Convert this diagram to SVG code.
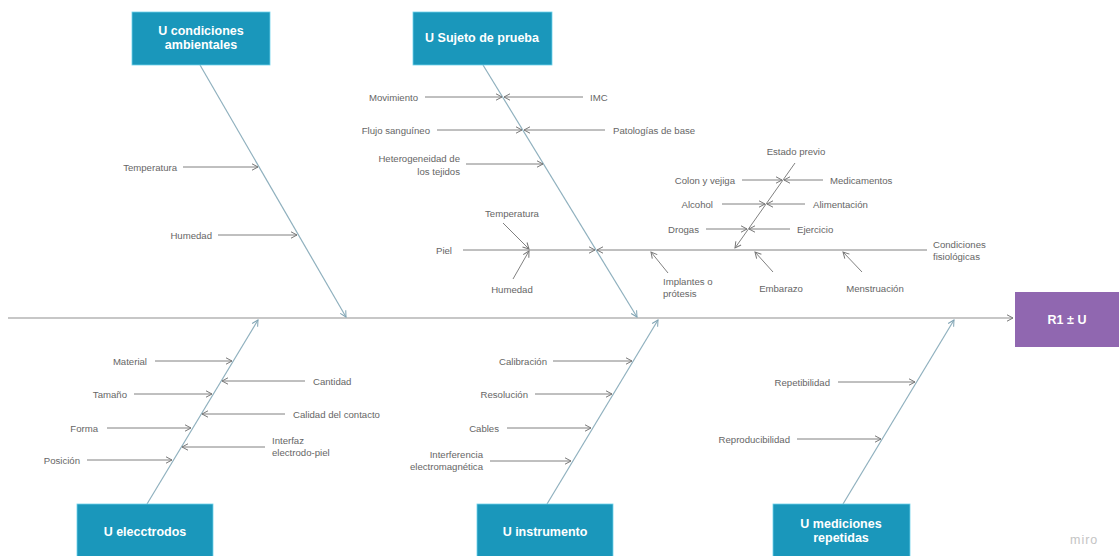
<svg xmlns="http://www.w3.org/2000/svg" width="1119" height="556" viewBox="0 0 1119 556">
<defs>
<marker id="ah" viewBox="0 0 8 8" refX="7" refY="4" markerWidth="8" markerHeight="8" markerUnits="userSpaceOnUse" orient="auto">
<path d="M1,0.8 L7,4 L1,7.2" fill="none" stroke="#777" stroke-width="1"/>
</marker>
<marker id="ahs" viewBox="0 0 8 8" refX="7" refY="4" markerWidth="8" markerHeight="8" markerUnits="userSpaceOnUse" orient="auto">
<path d="M1,0.8 L7,4 L1,7.2" fill="none" stroke="#7fa3b3" stroke-width="1"/>
</marker>
</defs>
<style>
.bg{fill:#ffffff}
.box{fill:#1a97bb;stroke:#6fd3ea;stroke-width:0.8}
.res{fill:#9067b0}
.bt{font-family:"Liberation Sans",Arial,sans-serif;font-size:12.5px;font-weight:bold;fill:#ffffff;text-anchor:middle}
.lb{font-family:"Liberation Sans",Arial,sans-serif;font-size:9.6px;fill:#666666}
.e{text-anchor:end}
.m{text-anchor:middle}
.ar{stroke:#808080;stroke-width:1;fill:none;marker-end:url(#ah)}
.sp{stroke:#8fb0be;stroke-width:1.2;fill:none;marker-end:url(#ahs)}
.main{stroke:#b5b5b5;stroke-width:1.5;fill:none;marker-end:url(#ah)}
</style>
<rect class="bg" x="0" y="0" width="1119" height="556"/>

<g id="connectors">
<line class="main" x1="8" y1="318" x2="1013" y2="318"/>
<line class="sp" x1="200" y1="65" x2="346" y2="317"/>
<line class="sp" x1="483" y1="65" x2="637" y2="317"/>
<line class="sp" x1="147" y1="504" x2="258" y2="320"/>
<line class="sp" x1="547" y1="504" x2="658" y2="320"/>
<line class="sp" x1="843" y1="504" x2="954" y2="320"/>
<line class="ar" x1="183" y1="167" x2="258" y2="167"/>
<line class="ar" x1="218" y1="235" x2="297" y2="235"/>
<line class="ar" x1="425" y1="97" x2="502" y2="97"/>
<line class="ar" x1="583" y1="97" x2="504" y2="97"/>
<line class="ar" x1="437" y1="130" x2="522" y2="130"/>
<line class="ar" x1="605" y1="130" x2="524" y2="130"/>
<line class="ar" x1="466" y1="164" x2="543" y2="164"/>
<line class="ar" x1="463" y1="250" x2="595" y2="250"/>
<line class="ar" x1="927" y1="250" x2="597" y2="250"/>
<line class="ar" x1="503" y1="223" x2="529" y2="249"/>
<line class="ar" x1="513" y1="279" x2="529" y2="251"/>
<line class="ar" x1="668" y1="273" x2="651" y2="252"/>
<line class="ar" x1="795" y1="163" x2="735" y2="248"/>
<line class="ar" x1="742" y1="180" x2="782" y2="180"/>
<line class="ar" x1="823" y1="180" x2="784" y2="180"/>
<line class="ar" x1="722" y1="204" x2="765" y2="204"/>
<line class="ar" x1="805" y1="204" x2="767" y2="204"/>
<line class="ar" x1="706" y1="229" x2="747" y2="229"/>
<line class="ar" x1="790" y1="229" x2="749" y2="229"/>
<line class="ar" x1="773" y1="272" x2="755" y2="252"/>
<line class="ar" x1="862" y1="272" x2="843" y2="252"/>
<line class="ar" x1="155" y1="361" x2="232" y2="361"/>
<line class="ar" x1="305" y1="381" x2="222" y2="381"/>
<line class="ar" x1="134" y1="394" x2="212" y2="394"/>
<line class="ar" x1="285" y1="414" x2="202" y2="414"/>
<line class="ar" x1="107" y1="428" x2="191" y2="428"/>
<line class="ar" x1="265" y1="447" x2="182" y2="447"/>
<line class="ar" x1="87" y1="460" x2="172" y2="460"/>
<line class="ar" x1="553" y1="361" x2="632" y2="361"/>
<line class="ar" x1="535" y1="394" x2="612" y2="394"/>
<line class="ar" x1="507" y1="428" x2="591" y2="428"/>
<line class="ar" x1="490" y1="461" x2="571" y2="461"/>
<line class="ar" x1="838" y1="382" x2="915" y2="382"/>
<line class="ar" x1="797" y1="439" x2="881" y2="439"/>
</g>

<g id="n-ambientales">
<rect class="box" x="132" y="12" width="138" height="53"/>
<text class="bt" x="201" y="35">U condiciones</text>
<text class="bt" x="201" y="49">ambientales</text>
</g>
<g id="n-sujeto">
<rect class="box" x="413" y="12" width="139" height="53"/>
<text class="bt" x="482" y="42">U Sujeto de prueba</text>
</g>
<g id="n-electrodos">
<rect class="box" x="77" y="504" width="136" height="54"/>
<text class="bt" x="145" y="536">U elecctrodos</text>
</g>
<g id="n-instrumento">
<rect class="box" x="477" y="504" width="136" height="54"/>
<text class="bt" x="545" y="536">U instrumento</text>
</g>
<g id="n-mediciones">
<rect class="box" x="773" y="504" width="137" height="54"/>
<text class="bt" x="841" y="528">U mediciones</text>
<text class="bt" x="841" y="542">repetidas</text>
</g>
<g id="n-resultado">
<rect class="res" x="1015" y="292" width="106" height="55"/>
<text class="bt" x="1067" y="324">R1 ± U</text>
</g>

<g id="labels">
<text class="lb e" x="177" y="170.5">Temperatura</text>
<text class="lb e" x="212" y="238.5">Humedad</text>
<text class="lb e" x="418" y="100.5">Movimiento</text>
<text class="lb" x="590" y="100.5">IMC</text>
<text class="lb e" x="430" y="133.5">Flujo sanguíneo</text>
<text class="lb" x="613" y="133.5">Patologías de base</text>
<text class="lb e" x="460" y="161.5">Heterogeneidad de</text>
<text class="lb e" x="460" y="174.5">los tejidos</text>
<text class="lb e" x="452" y="254">Piel</text>
<text class="lb m" x="512" y="216.5">Temperatura</text>
<text class="lb m" x="512" y="292.5">Humedad</text>
<text class="lb" x="663" y="284.5">Implantes o</text>
<text class="lb" x="663" y="296.5">prótesis</text>
<text class="lb m" x="796" y="154.5">Estado previo</text>
<text class="lb e" x="735" y="183.5">Colon y vejiga</text>
<text class="lb" x="830" y="183.5">Medicamentos</text>
<text class="lb e" x="713" y="207.5">Alcohol</text>
<text class="lb" x="813" y="207.5">Alimentación</text>
<text class="lb e" x="699" y="232.5">Drogas</text>
<text class="lb" x="797" y="232.5">Ejercicio</text>
<text class="lb" x="933" y="248">Condiciones</text>
<text class="lb" x="933" y="259.5">fisiológicas</text>
<text class="lb m" x="781" y="291.5">Embarazo</text>
<text class="lb m" x="875" y="291.5">Menstruación</text>
<text class="lb e" x="147" y="364.5">Material</text>
<text class="lb" x="313" y="384.5">Cantidad</text>
<text class="lb e" x="127" y="397.5">Tamaño</text>
<text class="lb" x="293" y="417.5">Calidad del contacto</text>
<text class="lb e" x="98" y="431.5">Forma</text>
<text class="lb" x="272" y="444">Interfaz</text>
<text class="lb" x="272" y="456">electrodo-piel</text>
<text class="lb e" x="80" y="463.5">Posición</text>
<text class="lb e" x="547" y="364.5">Calibración</text>
<text class="lb e" x="528" y="397.5">Resolución</text>
<text class="lb e" x="499" y="431.5">Cables</text>
<text class="lb e" x="483" y="458">Interferencia</text>
<text class="lb e" x="483" y="470">electromagnética</text>
<text class="lb e" x="830" y="385.5">Repetibilidad</text>
<text class="lb e" x="790" y="442.5">Reproducibilidad</text>
<text x="1070" y="544" font-family="'Liberation Sans',Arial,sans-serif" font-size="12.5" fill="#c4c4c4" letter-spacing="1">miro</text>
</g>
</svg>
